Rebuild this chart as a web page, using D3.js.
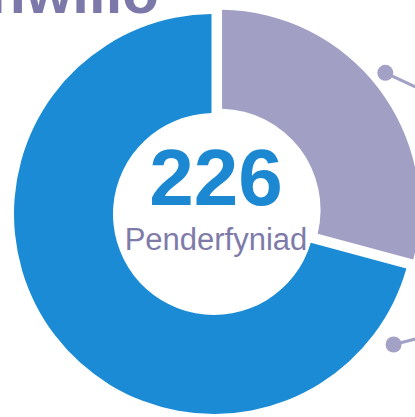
<!DOCTYPE html>
<html>
  <head>
    <meta charset="utf-8">
    <style>
      body { margin:0; background:#fff; }
      text { font-family: Arial, "Liberation Sans", Helvetica, sans-serif; }
    </style>
    <script src="https://d3js.org/d3.v7.min.js"></script>
  </head>
  <body>
    <script>
      // slices: purple first (from 12 o'clock clockwise), then blue
      const categories = ['Purple', 'Blue']
      const values = [66, 160]
      const colors = ['#a19fc4', '#1b8bd6']
      const total = 226
      const centerLabel = 'Penderfyniad'
      const title = 'Archwilio'

      // leader dots at angles (deg from north) for the callouts off the edge
      const calloutAngles = [50.5, 126]
      const calloutDx = [[0, 30], [0, 28]]
      const calloutDy = [[0, 14], [0, -7]]

      const W = 415, H = 417
      const cx = 214, cy = 214
      const outerR = 200, innerR = 101

      const svg = d3.select('body').append('svg')
        .attr('width', W).attr('height', H)

      svg.append('text')
        .attr('x', 159).attr('y', 13)
        .attr('text-anchor', 'end')
        .style('font-size', '60px')
        .style('font-weight', 'bold')
        .style('fill', '#7c79aa')
        .text(title)

      const pie = d3.pie().sort(null).value(d => d)
      const arcs = pie(values)
      const arc = d3.arc()
        .innerRadius(innerR).outerRadius(outerR)
        .padAngle(0.025).padRadius(outerR)

      const explode = [7, 0]
      const g = svg.append('g').attr('transform', `translate(${cx},${cy})`)
      g.selectAll('path')
        .data(arcs)
        .join('path')
        .attr('d', arc)
        .attr('fill', (d, i) => colors[i])
        .attr('transform', (d, i) => {
          const a = (d.startAngle + d.endAngle) / 2
          return `translate(${Math.sin(a) * explode[i]},${-Math.cos(a) * explode[i]})`
        })

      // callouts
      const rad = d3.scaleLinear().domain([0, 360]).range([0, 2 * Math.PI])
      const cr = 222
      const calls = g.selectAll('g.call')
        .data(calloutAngles)
        .join('g').attr('class', 'call')
        .attr('transform', d => `translate(${Math.sin(rad(d)) * cr},${-Math.cos(rad(d)) * cr})`)
      calls.append('line')
        .attr('x1', (d, i) => calloutDx[i][0]).attr('x2', (d, i) => calloutDx[i][1])
        .attr('y1', (d, i) => calloutDy[i][0]).attr('y2', (d, i) => calloutDy[i][1])
        .attr('stroke', '#a3a1c6').attr('stroke-width', 3)
      calls.append('circle')
        .attr('r', 8).attr('fill', '#a3a1c6')

      g.append('text')
        .attr('x', 2).attr('y', -9)
        .attr('text-anchor', 'middle')
        .style('font-size', '80px')
        .style('font-weight', 'bold')
        .style('fill', '#1c88d2')
        .text(total)

      g.append('text')
        .attr('x', 2).attr('y', 36)
        .attr('text-anchor', 'middle')
        .style('font-size', '31px')
        .style('fill', '#7e7ba9')
        .text(centerLabel)
    </script>
  </body>
</html>
